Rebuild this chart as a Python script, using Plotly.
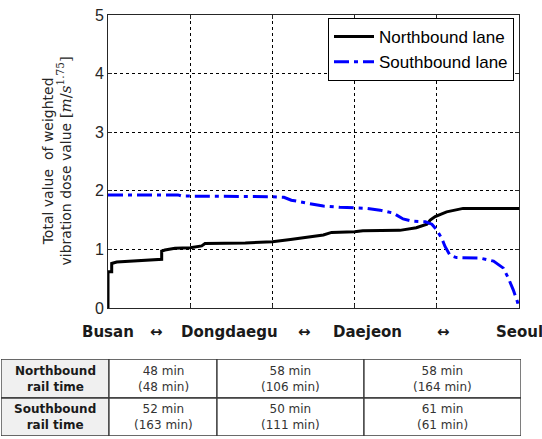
import plotly.graph_objects as go

# ---------------- data ----------------
north_x = [0, 0, 0.045, 0.045, 0.106, 0.653, 0.653, 0.693, 0.815, 1.0, 1.14, 1.18, 1.67, 2.0, 2.22,
           2.42, 2.62, 2.72, 3.0, 3.1, 3.31, 3.55, 3.75, 3.88, 3.92, 3.98, 4.12, 4.32, 5.0]
north_y = [0, 0.62, 0.62, 0.76, 0.785, 0.83, 0.97, 0.99, 1.02, 1.03, 1.06, 1.10, 1.11, 1.13, 1.17,
           1.21, 1.245, 1.29, 1.30, 1.32, 1.32, 1.325, 1.37, 1.43, 1.50, 1.56, 1.64, 1.70, 1.70]

south_x = [0, 0.85, 0.90, 1.45, 1.52, 2.0, 2.14, 2.23, 2.42, 2.62, 2.82, 2.98, 3.14, 3.31, 3.47,
           3.59, 3.71, 3.86, 3.94, 4.00, 4.06, 4.10, 4.16, 4.24, 4.53, 4.69, 4.81, 4.87, 4.93, 4.98, 5.0]
south_y = [1.93, 1.93, 1.91, 1.91, 1.90, 1.90, 1.89, 1.84, 1.79, 1.74, 1.72, 1.71, 1.70, 1.67, 1.62,
           1.52, 1.48, 1.47, 1.43, 1.33, 1.19, 1.05, 0.90, 0.86, 0.85, 0.80, 0.68, 0.51, 0.31, 0.11, 0.0]

route_labels = ["Busan", "↔", "Dongdaegu", "↔", "Daejeon", "↔", "Seoul"]
route_label_x = [0.0, 0.59, 1.48, 2.39, 3.16, 4.08, 5.0]

y_ticks = [0, 1, 2, 3, 4, 5]
x_grid = [1, 2, 3, 4]

row_labels = ["Northbound<br>rail time", "Southbound<br>rail time"]
north_minutes = [48, 58, 58]
north_cumulative = [48, 106, 164]
south_minutes = [52, 50, 61]
south_cumulative = [163, 111, 61]

# table geometry (column widths / row heights in table units)
col_widths = [108, 108, 147, 157]
row_heights = [39, 38]

# ---------------- figure ----------------
W, H = 542, 439
fig = go.Figure()

fig.add_trace(go.Scatter(x=north_x, y=north_y, mode="lines", name="Northbound lane",
                         line=dict(color="#000000", width=3)))
fig.add_trace(go.Scatter(x=south_x, y=south_y, mode="lines", name="Southbound lane",
                         line=dict(color="#0000ff", width=3, dash="15px,5px,4px,5px")))

# ---------------- table (drawn on its own hidden axes) ----------------
def cell(m, c):
    return f"{m} min<br>({c} min)"

def bold(t):
    return "<br>".join(f"<b>{p}</b>" for p in t.split("<br>"))

table_rows = [
    [bold(row_labels[0])] + [cell(m, c) for m, c in zip(north_minutes, north_cumulative)],
    [bold(row_labels[1])] + [cell(m, c) for m, c in zip(south_minutes, south_cumulative)],
]
fills = ["#f0f0f0", "#ffffff", "#ffffff", "#ffffff"]
text_colors = ["#1a1a1a", "#333333", "#333333", "#333333"]

col_edges = [0]
for w in col_widths:
    col_edges.append(col_edges[-1] + w)
row_edges = [0]
for h in row_heights:
    row_edges.append(row_edges[-1] + h)

for r in range(len(row_heights)):
    for c in range(len(col_widths)):
        fig.add_shape(type="rect", xref="x2", yref="y2",
                      x0=col_edges[c], x1=col_edges[c + 1], y0=row_edges[r], y1=row_edges[r + 1],
                      fillcolor=fills[c], line=dict(color="#3a3a3a", width=1.3), layer="below")
        fig.add_annotation(xref="x2", yref="y2",
                           x=(col_edges[c] + col_edges[c + 1]) / 2,
                           y=(row_edges[r] + row_edges[r + 1]) / 2,
                           text=table_rows[r][c], showarrow=False, align="center",
                           xanchor="center", yanchor="middle",
                           font=dict(family="DejaVu Sans", size=12, color=text_colors[c]))

fig.update_layout(
    width=W, height=H, autosize=False,
    margin=dict(l=0, r=0, t=0, b=0),
    paper_bgcolor="white", plot_bgcolor="white",
    showlegend=True,
    legend=dict(x=514 / W, y=1 - 18 / H, xanchor="right", yanchor="top",
                bgcolor="white", bordercolor="#000000", borderwidth=1, itemwidth=40,
                font=dict(family="Liberation Sans", size=17, color="#000000")),
    xaxis=dict(domain=[108 / W, 519 / W], range=[0, 5], tickvals=x_grid, showticklabels=False,
               ticks="inside", ticklen=4, tickcolor="#262626",
               showline=True, linecolor="#262626", linewidth=1, mirror="ticks",
               showgrid=True, gridcolor="#000000", griddash="dot", gridwidth=1,
               zeroline=False, automargin=False),
    yaxis=dict(domain=[1 - 308 / H, 1 - 15 / H], range=[0, 5], tickvals=y_ticks,
               ticks="inside", ticklen=4, tickcolor="#262626",
               showline=True, linecolor="#262626", linewidth=1, mirror="ticks",
               showgrid=True, gridcolor="#000000", griddash="dot", gridwidth=1,
               zeroline=False, automargin=False,
               tickfont=dict(family="Liberation Sans", size=16, color="#262626")),
    xaxis2=dict(domain=[1 / W, (1 + col_edges[-1]) / W], range=[0, col_edges[-1]], anchor="y2",
                visible=False, fixedrange=True),
    yaxis2=dict(domain=[1 - (359 + row_edges[-1]) / H, 1 - 359 / H], range=[row_edges[-1], 0],
                anchor="x2", visible=False, fixedrange=True),
)

for lab, xv in zip(route_labels, route_label_x):
    fig.add_annotation(x=xv, y=1 - 332 / H, xref="x", yref="paper", text=f"<b>{lab}</b>",
                       showarrow=False, xanchor="center", yanchor="middle",
                       font=dict(family="DejaVu Sans", size=15, color="#1a1a1a"))

fig.add_annotation(
    x=57 / W, y=1 - 161.5 / H, xref="paper", yref="paper", textangle=-90, showarrow=False,
    xanchor="center", yanchor="middle", align="center",
    text="Total value  of weighted<br>vibration dose value "
         "<span style='font-family:DejaVu Serif;font-size:15px'>[<i>m</i>/<i>s</i><sup>1.75</sup>]</span>",
    font=dict(family="DejaVu Sans", size=14, color="#262626"),
)

fig.write_html("out.html")
